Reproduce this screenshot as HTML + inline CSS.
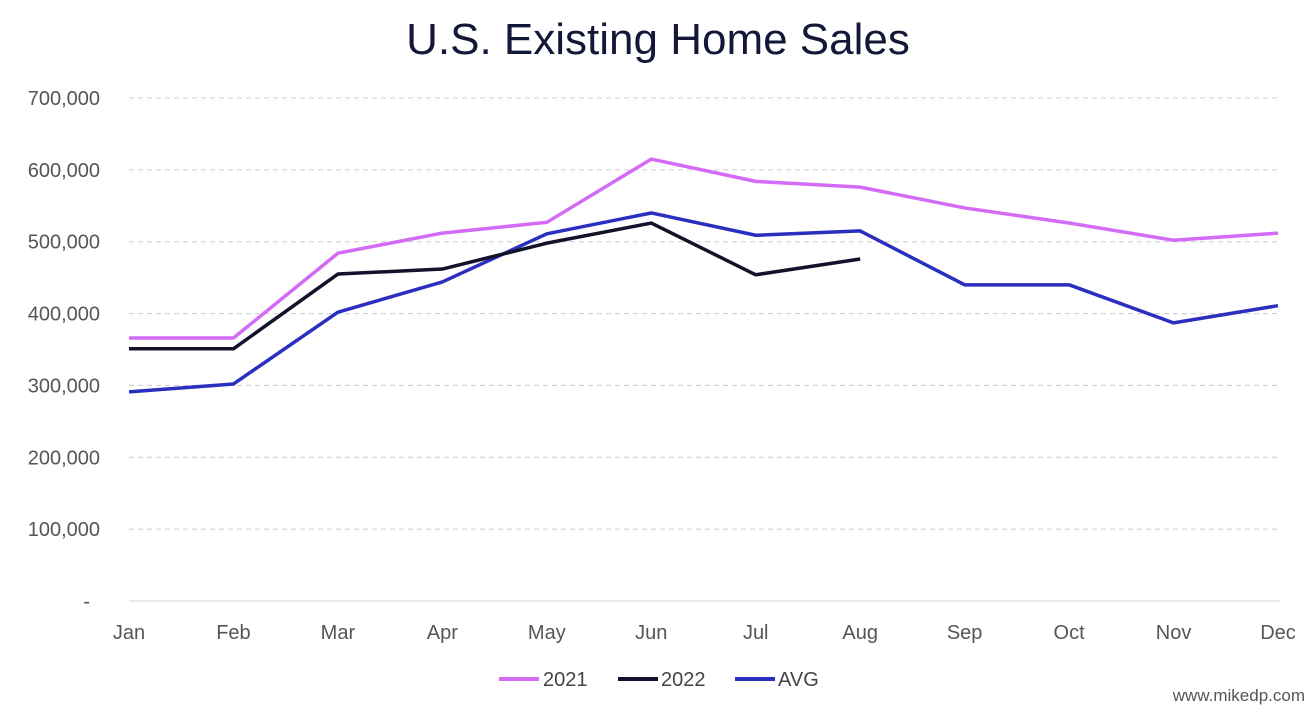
<!DOCTYPE html>
<html><head><meta charset="utf-8"><style>
body{margin:0;background:#fff;font-family:"Liberation Sans",sans-serif;}
svg text{font-family:"Liberation Sans",sans-serif;}
</style></head><body>
<svg width="1316" height="714" xmlns="http://www.w3.org/2000/svg">
<text x="658" y="54" text-anchor="middle" font-size="44" fill="#141838">U.S. Existing Home Sales</text>
<g id="grid"></g><g id="yt"></g><g id="xt"></g><g id="lines"></g>
<g>
<line x1="499" y1="679" x2="539" y2="679" stroke="#d36bf5" stroke-width="4"/>
<text x="543" y="686" font-size="20" fill="#444">2021</text>
<line x1="618" y1="679" x2="658" y2="679" stroke="#12132a" stroke-width="4"/>
<text x="661" y="686" font-size="20" fill="#444">2022</text>
<line x1="735" y1="679" x2="775" y2="679" stroke="#2b2fbf" stroke-width="4"/>
<text x="778" y="686" font-size="20" fill="#444">AVG</text>
</g>
<text x="1305" y="701" text-anchor="end" font-size="17" fill="#555">www.mikedp.com</text>
</svg>
<script>
const months=["Jan","Feb","Mar","Apr","May","Jun","Jul","Aug","Sep","Oct","Nov","Dec"];
const yTicks=[0,100000,200000,300000,400000,500000,600000,700000];
const s2021=[366000,366000,484000,512000,527000,615000,584000,576000,547000,526000,502000,512000];
const s2022=[351000,351000,455000,462000,498000,526000,454000,476000];
const sAvg=[291000,302000,402000,444000,511000,540000,509000,515000,440000,440000,387000,411000];
const NS="http://www.w3.org/2000/svg";
const x=i=>129+i*(1278-129)/11;
const y=v=>601-v/700000*503;
function mk(t,a,p){const e=document.createElementNS(NS,t);for(const k in a)e.setAttribute(k,a[k]);document.getElementById(p).appendChild(e);return e;}
yTicks.forEach(v=>{
 const l=mk('line',{x1:129,x2:1280,y1:y(v),y2:y(v),stroke:v?'#ccc':'#d0d0d0','stroke-width':1,'stroke-dasharray':v?'5,4':''},'grid');
 
 
 const t=mk('text',{x:v?100:90,y:y(v)+7,'text-anchor':'end','font-size':20,fill:'#555'},'yt');
 t.textContent=v?v.toLocaleString('en-US'):'-';
 
 
});
months.forEach((m,i)=>{
 const t=mk('text',{x:x(i),y:639,'text-anchor':'middle','font-size':20,fill:'#555'},'xt');
 t.textContent=m;
 
 
});
[[s2021,'#d36bf5','line-2021'],[sAvg,'#2b2fbf','line-avg'],[s2022,'#12132a','line-2022']].forEach(([d,c,n])=>{
 const p=mk('polyline',{points:d.map((v,i)=>x(i)+','+y(v)).join(' '),fill:'none',stroke:c,'stroke-width':3.5,'stroke-linejoin':'round'},'lines');
 
 
});
</script>
</body></html>
